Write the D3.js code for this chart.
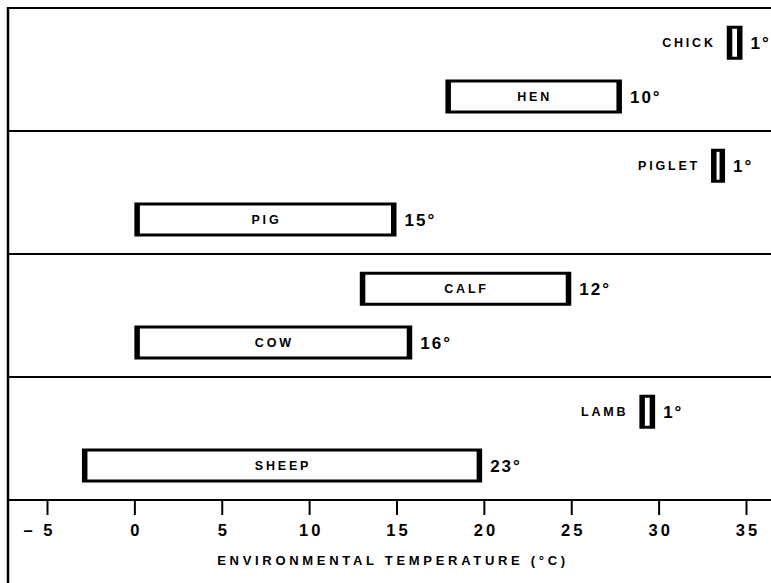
<!DOCTYPE html>
<html>
<head>
<meta charset="utf-8">
<script src="https://cdn.jsdelivr.net/npm/d3@7"></script>
<style>
  html, body { margin: 0; padding: 0; background: #fff; }
  svg { display: block; font-family: "Liberation Sans", Arial, Helvetica, sans-serif; }
</style>
</head>
<body>
<svg id="chart" width="771" height="583"></svg>
<script>
// ---- data ----
const animals    = ["CHICK", "HEN", "PIGLET", "PIG", "CALF", "COW", "LAMB", "SHEEP"];
const groups     = ["poultry", "pigs", "cattle", "sheep"];
const animalGroup = ["poultry", "poultry", "pigs", "pigs", "cattle", "cattle", "sheep", "sheep"];
const animalRow  = ["young", "adult", "young", "adult", "young", "adult", "young", "adult"];
const lowTemp    = [33.9, 17.8, 33.0, 0.0, 12.9, 0.0, 28.9, -3.0];
const highTemp   = [34.8, 27.9, 33.8, 15.0, 25.0, 15.9, 29.8, 19.9];
const rangeLabels = ["1°", "10°", "1°", "15°", "12°", "16°", "1°", "23°"];
const tickValues = [-5, 0, 5, 10, 15, 20, 25, 30, 35];
const axisTitle  = "ENVIRONMENTAL TEMPERATURE (°C)";

(function () {
const rows = animals.map((a, i) => ({
  name: a, group: animalGroup[i], row: animalRow[i],
  lo: lowTemp[i], hi: highTemp[i], label: rangeLabels[i]
}));

// ---- layout ----
const W = 771, H = 583;
const frameLeft = 8, frameTop = 8, axisY = 500;
const svg = d3.select("#chart");

const x = d3.scaleLinear().domain([-5, 35]).range([47, 746]);
const yGroup = d3.scaleBand().domain(groups).range([frameTop, axisY]).paddingInner(0).paddingOuter(0);
const yRow = d3.scalePoint().domain(["young", "adult"]).range([34.75, 88.5]);
const barH = 34;

// frame: top line, left line (runs to bottom), separators
svg.append("line").attr("x1", frameLeft).attr("x2", W).attr("y1", frameTop).attr("y2", frameTop)
  .attr("stroke", "#000").attr("stroke-width", 2);
svg.append("line").attr("x1", frameLeft).attr("x2", frameLeft).attr("y1", frameTop - 1).attr("y2", H)
  .attr("stroke", "#000").attr("stroke-width", 2.5);
svg.selectAll("line.sep").data(groups.slice(1)).enter().append("line")
  .attr("class", "sep")
  .attr("x1", frameLeft).attr("x2", W)
  .attr("y1", d => yGroup(d)).attr("y2", d => yGroup(d))
  .attr("stroke", "#000").attr("stroke-width", 2);

// bars
const cy = d => yGroup(d.group) + yRow(d.row);
const sideW = 5.5, capW = 3;
const g = svg.append("g");
g.selectAll("rect.outer").data(rows).enter().append("rect")
  .attr("class", "outer")
  .attr("x", d => x(d.lo)).attr("width", d => x(d.hi) - x(d.lo))
  .attr("y", d => cy(d) - barH / 2).attr("height", barH)
  .attr("fill", "#000");
g.selectAll("rect.inner").data(rows).enter().append("rect")
  .attr("class", "inner")
  .attr("x", d => x(d.lo) + sideW).attr("width", d => Math.max(1, x(d.hi) - x(d.lo) - 2 * sideW))
  .attr("y", d => cy(d) - barH / 2 + capW).attr("height", barH - 2 * capW)
  .attr("fill", "#fff");

// names
g.selectAll("text.name").data(rows).enter().append("text")
  .attr("class", "name")
  .attr("x", d => (x(d.hi) - x(d.lo) > 60) ? (x(d.lo) + x(d.hi)) / 2 + 1 : x(d.lo) - 11)
  .attr("y", d => cy(d))
  .attr("dy", "0.36em")
  .attr("text-anchor", d => (x(d.hi) - x(d.lo) > 60) ? "middle" : "end")
  .attr("font-size", 12.5).attr("font-weight", "bold")
  .attr("letter-spacing", 2.8)
  .text(d => d.name);

// range labels
g.selectAll("text.val").data(rows).enter().append("text")
  .attr("class", "val")
  .attr("x", d => x(d.hi) + 8)
  .attr("y", d => cy(d))
  .attr("dy", "0.36em")
  .attr("font-size", 17).attr("font-weight", "bold")
  .attr("letter-spacing", 2)
  .text(d => d.label);

// axis
const axis = d3.axisBottom(x).tickValues(tickValues).tickSize(15).tickPadding(9)
  .tickFormat(d => d < 0 ? "\u2013 " + Math.abs(d) : String(d));
const ax = svg.append("g").attr("transform", `translate(0,${axisY})`).call(axis);
ax.select(".domain").remove();
ax.selectAll(".tick line").attr("stroke", "#000").attr("stroke-width", 2);
ax.selectAll(".tick text")
  .attr("fill", "#000")
  .attr("font-size", 16.5).attr("font-weight", "bold")
  .attr("font-family", "Liberation Sans, Arial, sans-serif")
  .attr("letter-spacing", 3)
  .attr("dx", d => d < 0 ? -8 : 1.5);
svg.append("line").attr("x1", frameLeft).attr("x2", W).attr("y1", axisY).attr("y2", axisY)
  .attr("stroke", "#000").attr("stroke-width", 2);

// axis title
svg.append("text")
  .attr("x", 393).attr("y", 565)
  .attr("text-anchor", "middle")
  .attr("font-size", 13).attr("font-weight", "bold")
  .attr("letter-spacing", 3.7)
  .text(axisTitle);
})();
</script>
</body>
</html>
